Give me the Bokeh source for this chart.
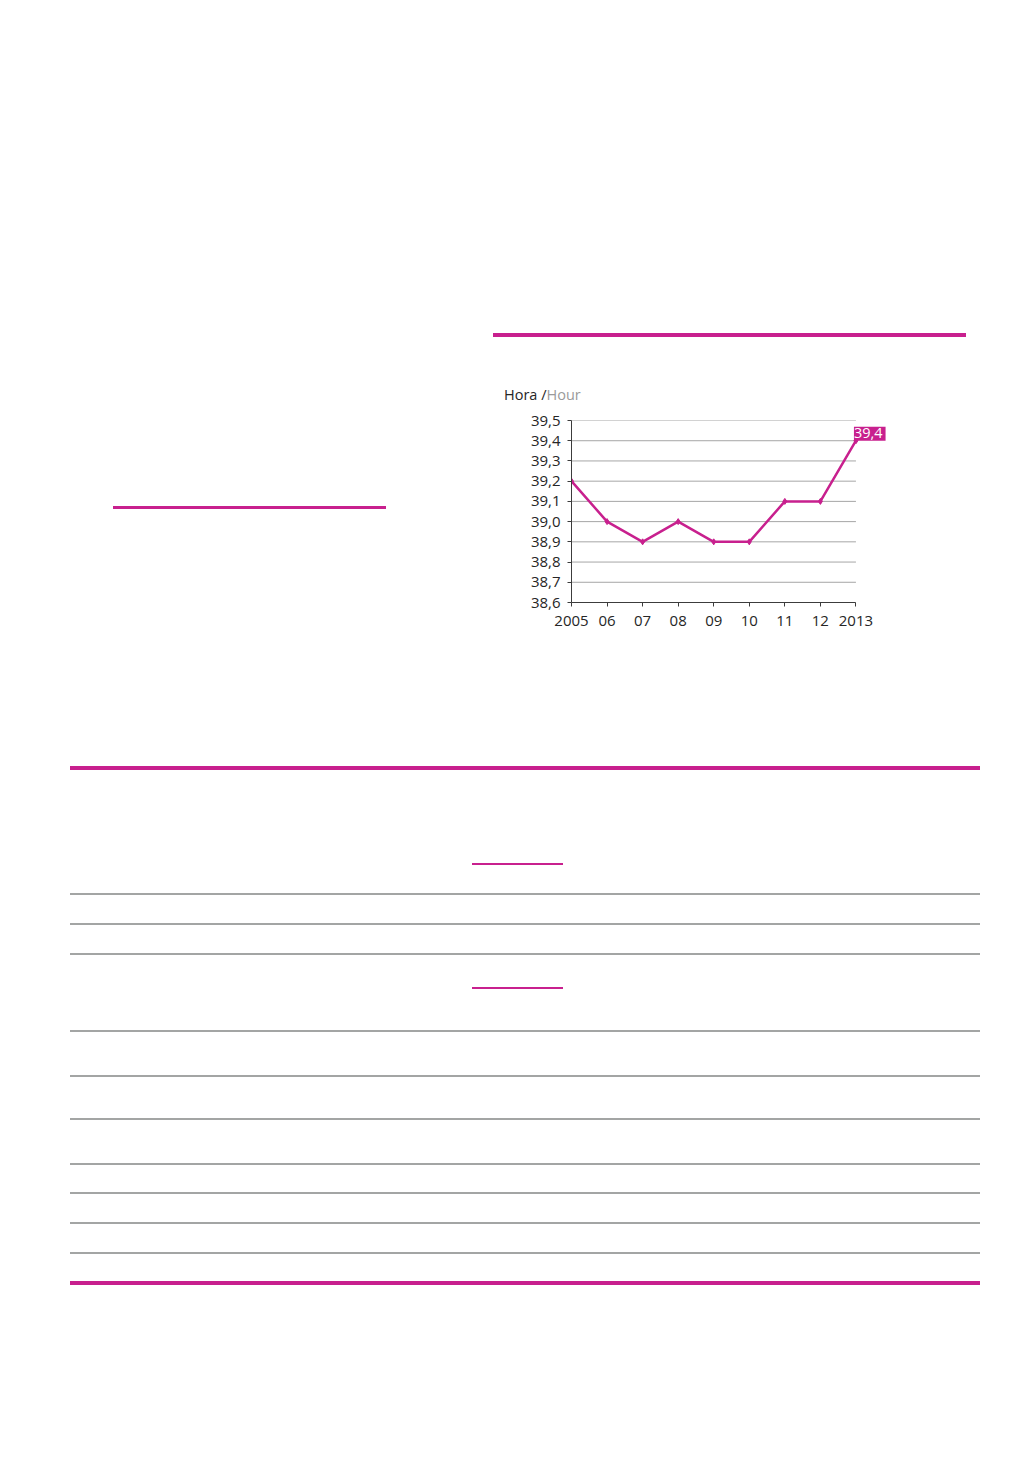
from bokeh.plotting import figure
from bokeh.models import (Range1d, FixedTicker, CustomJSTickFormatter, Label, Div,
                          ColumnDataSource)
from bokeh.layouts import column, row
from bokeh.embed import file_html
from bokeh.resources import INLINE

# ---------------- data ----------------
years = ["2005", "06", "07", "08", "09", "10", "11", "12", "2013"]
hours = [39.2, 39.0, 38.9, 39.0, 38.9, 38.9, 39.1, 39.1, 39.4]
y_ticks = [38.6, 38.7, 38.8, 38.9, 39.0, 39.1, 39.2, 39.3, 39.4, 39.5]
last_label = "39,4"
unit_pt = "Hora /"
unit_en = "Hour"

MAGENTA = "#C8208E"
GRID = "#A6A6A6"
AXIS = "#3C3C3C"
TEXT = "#262626"
FONT = "Open Sans"

x_idx = list(range(len(years)))
src = ColumnDataSource(dict(x=x_idx, y=hours))
grid_src = ColumnDataSource(dict(x0=[x_idx[0]] * len(y_ticks), x1=[x_idx[-1]] * len(y_ticks),
                                 y=y_ticks))

# ---------------- chart ----------------
# x range extended by one slot on the right so the end label is not clipped
p = figure(width=407, height=230, output_backend="svg", toolbar_location=None,
           x_range=Range1d(x_idx[0], x_idx[-1] + 1), y_range=Range1d(y_ticks[0], y_ticks[-1]),
           min_border_left=78, min_border_right=9, min_border_top=10, min_border_bottom=38)
p.outline_line_color = None
p.background_fill_color = "white"
p.border_fill_color = "white"
p.grid.visible = False

p.segment(x0="x0", x1="x1", y0="y", y1="y", source=grid_src, line_color=GRID, line_width=1)

p.xaxis.ticker = FixedTicker(ticks=x_idx)
p.xaxis.major_label_overrides = {i: lbl for i, lbl in zip(x_idx, years)}
p.xaxis.bounds = (x_idx[0], x_idx[-1])
p.yaxis.ticker = FixedTicker(ticks=y_ticks)
p.yaxis.formatter = CustomJSTickFormatter(code="return tick.toFixed(1).replace('.', ',');")

for ax in (p.xaxis[0], p.yaxis[0]):
    ax.axis_line_color = AXIS
    ax.axis_line_width = 1
    ax.major_tick_line_color = AXIS
    ax.major_tick_out = 4
    ax.major_tick_in = 0
    ax.minor_tick_line_color = None
    ax.major_label_text_font = FONT
    ax.major_label_text_font_size = "15px"
    ax.major_label_text_color = TEXT
p.xaxis.major_label_standoff = 9
p.yaxis.major_label_standoff = 7

p.line("x", "y", source=src, line_color=MAGENTA, line_width=2.5)
p.scatter("x", "y", source=src, marker="diamond", size=6, fill_color=MAGENTA,
          line_color=MAGENTA)

lab = Label(x=x_idx[-1], y=hours[-1], text=last_label, text_color="white",
            text_font=FONT, text_font_size="14.5px", text_align="left",
            text_baseline="bottom", x_offset=-2, y_offset=0,
            background_fill_color=MAGENTA, padding=(0, 3, 1, 3))
p.add_layout(lab)

# ---------------- page decoration ----------------
def bar(left, top, width, height, color):
    return (f'<div style="position:absolute;left:{left}px;top:{top}px;'
            f'width:{width}px;height:{height}px;background:{color};"></div>')

top_html = ('<div style="position:relative;width:1020px;height:372px;">'
            + bar(485, 325, 473, 4, MAGENTA) + '</div>')
top_div = Div(text=top_html, width=1020, height=372, margin=0)

left_html = ('<div style="position:relative;width:485px;height:260px;">'
             + bar(105, 126, 273, 3, MAGENTA) + '</div>')
left_div = Div(text=left_html, width=485, height=260, margin=0)

title_html = (f'<div style="position:relative;width:407px;height:30px;">'
              f'<div style="position:absolute;left:11px;top:5px;line-height:20px;'
              f'font-family:\'{FONT}\';font-size:14.5px;color:{TEXT};white-space:nowrap;">'
              f'{unit_pt}<span style="color:#9A9A9A;">{unit_en}</span></div></div>')
title_div = Div(text=title_html, width=407, height=30, margin=0)

GRAYLINE = "#A3A5A4"
bottom_parts = [bar(62, 126, 910, 4, MAGENTA)]
for t in [253, 283, 313, 390, 435, 478, 523, 552, 582, 612]:
    bottom_parts.append(bar(62, t, 910, 2, GRAYLINE))
bottom_parts.append(bar(464, 223, 91, 2, MAGENTA))
bottom_parts.append(bar(464, 347, 91, 2, MAGENTA))
bottom_parts.append(bar(62, 641, 910, 4, MAGENTA))
bottom_html = ('<div style="position:relative;width:1020px;height:820px;">'
               + "".join(bottom_parts) + '</div>')
bottom_div = Div(text=bottom_html, width=1020, height=820, margin=0)

layout = column(top_div, row(left_div, column(title_div, p, spacing=0), spacing=0),
                bottom_div, spacing=0, margin=(8, 8, 8, 8))

open("out.html", "w").write(file_html(layout, INLINE))
